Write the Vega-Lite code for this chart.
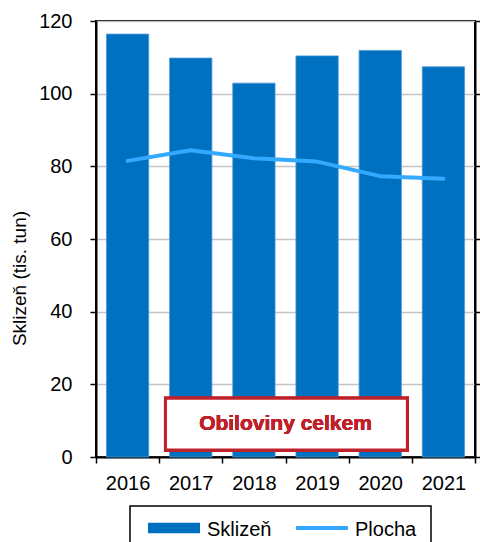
{
  "$schema": "https://vega.github.io/schema/vega-lite/v6.json",
  "width": 379,
  "height": 436,
  "autosize": {"type": "none"},
  "padding": {"left": 96, "top": 21, "right": 5, "bottom": 85},
  "background": "white",
  "config": {
    "font": "Liberation Sans",
    "view": {"stroke": "black", "strokeWidth": 2},
    "axis": {"labelFont": "Liberation Sans", "labelColor": "black", "titleFont": "Liberation Sans", "titleColor": "black"}
  },
  "data": {
    "values": [
      {"year": "2016", "harvest": 116.4, "area": 81.5},
      {"year": "2017", "harvest": 109.8, "area": 84.4},
      {"year": "2018", "harvest": 102.9, "area": 82.2},
      {"year": "2019", "harvest": 110.4, "area": 81.3},
      {"year": "2020", "harvest": 111.9, "area": 77.3},
      {"year": "2021", "harvest": 107.4, "area": 76.6}
    ]
  },
  "encoding": {
    "x": {
      "field": "year",
      "type": "nominal",
      "scale": {"paddingInner": 0, "paddingOuter": 0},
      "axis": {
        "title": null,
        "labelAngle": 0,
        "labelFontSize": 20,
        "labelPadding": 10,
        "tickBand": "extent",
        "tickSize": 6,
        "tickColor": "black",
        "tickWidth": 1.5,
        "domainColor": "black",
        "domainWidth": 2
      }
    }
  },
  "layer": [
    {
      "mark": {"type": "bar", "width": {"band": 0.67}, "stroke": "#4F9BD8", "strokeWidth": 0.8},
      "encoding": {
        "y": {
          "field": "harvest",
          "type": "quantitative",
          "scale": {"domain": [0, 120], "nice": false},
          "axis": {
            "values": [0, 20, 40, 60, 80, 100, 120],
            "title": "Sklizeň (tis. tun)",
            "titleFontSize": 19,
            "titleFontWeight": "normal",
            "titleX": -77,
            "titleY": 257,
            "titleAngle": -90,
            "titleAlign": "center",
            "titleBaseline": "middle",
            "labelFontSize": 20,
            "labelPadding": 18,
            "tickSize": 6,
            "tickColor": "black",
            "tickWidth": 1.5,
            "domainColor": "black",
            "domainWidth": 2,
            "grid": true,
            "gridColor": "#C4C4C4",
            "gridWidth": 1.5
          }
        },
        "color": {
          "datum": "Sklizeň",
          "type": "nominal",
          "scale": {"domain": ["Sklizeň", "Plocha"], "range": ["#0070C0", "#33AAFF"]},
          "legend": {
            "title": null,
            "orient": "none",
            "legendX": 34,
            "legendY": 485,
            "direction": "horizontal",
            "labelFontSize": 20,
            "labelColor": "black",
            "labelFont": "Liberation Sans",
            "labelOffset": 43,
            "symbolSize": 144,
            "symbolType": "M-1,-1.2H7.67V0.53H-1Z",
            "symbolStrokeWidth": 0,
            "symbolOpacity": 1,
            "columnPadding": 20,
            "padding": 14,
            "strokeColor": "black",
            "fillColor": "white",
            "encoding": {
              "legend": {"strokeWidth": {"value": 1.5}},
              "symbols": {
                "shape": {"condition": {"test": "datum.value === 'Plocha'", "value": "M-1,-0.67H7.67V0H-1Z"}, "value": "M-1,-1.2H7.67V0.53H-1Z"}
              }
            }
          }
        }
      }
    },
    {
      "mark": {"type": "line", "strokeWidth": 4, "strokeCap": "round", "strokeJoin": "round"},
      "encoding": {
        "y": {
          "field": "area",
          "type": "quantitative",
          "axis": {
            "orient": "right",
            "values": [0, 20, 40, 60, 80, 100, 120],
            "labels": false,
            "title": null,
            "grid": false,
            "tickSize": 5,
            "tickColor": "black",
            "tickWidth": 1.5,
            "domainColor": "black",
            "domainWidth": 2
          }
        },
        "color": {"datum": "Plocha", "type": "nominal", "legend": null}
      }
    },
    {
      "mark": {"type": "rect", "fill": "white", "stroke": "#C0202A", "strokeWidth": 3},
      "encoding": {
        "x": {"datum": "2017", "bandPosition": 0.1},
        "x2": {"datum": "2020", "bandPosition": 0.93},
        "y": {"datum": 16.2, "type": "quantitative", "axis": null},
        "y2": {"datum": 1.9}
      }
    },
    {
      "mark": {"type": "text", "text": "Obiloviny celkem", "font": "Liberation Sans", "fontSize": 21, "fontWeight": "bold", "color": "#C0202A", "align": "center", "baseline": "middle"},
      "encoding": {
        "x": {"datum": "2019", "bandPosition": 0},
        "y": {"datum": 9, "type": "quantitative", "axis": null}
      }
    }
  ],
  "resolve": {"axis": {"y": "independent"}}
}
